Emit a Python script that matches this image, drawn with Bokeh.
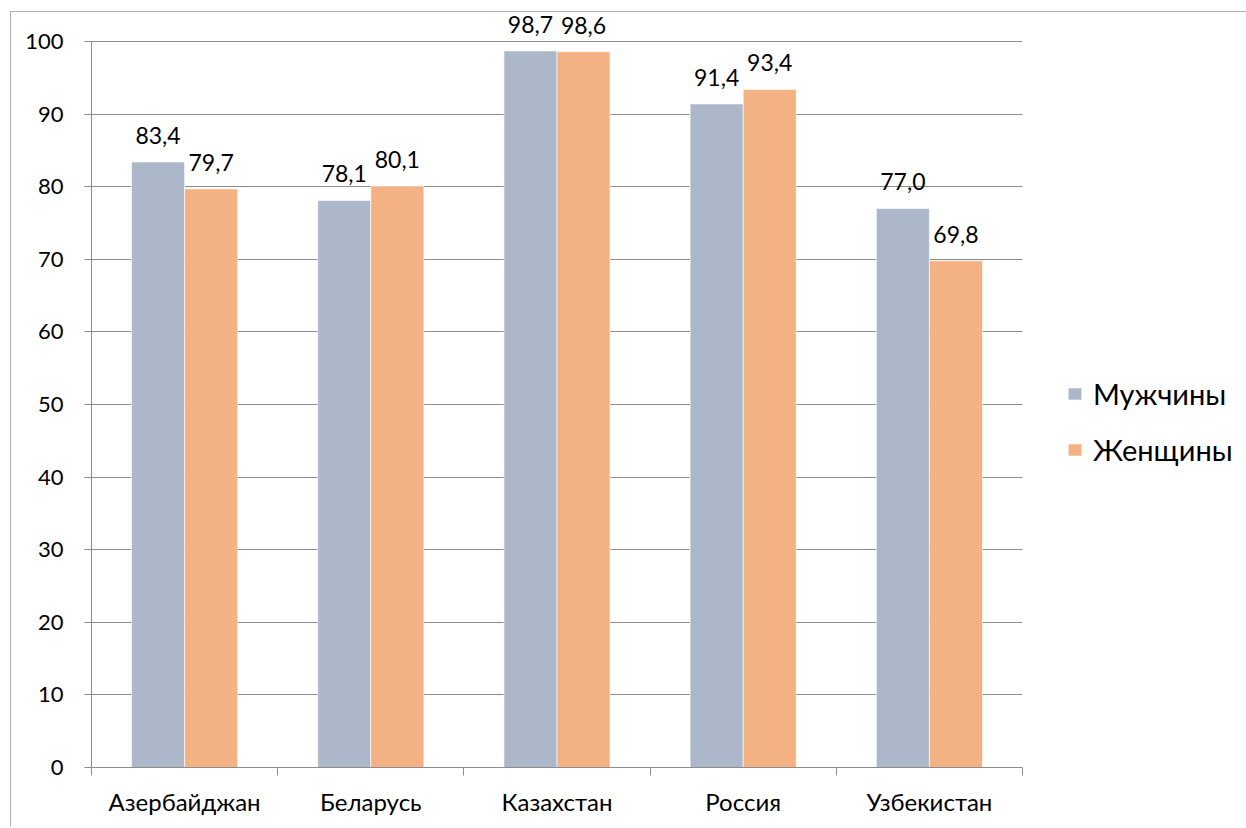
from bokeh.plotting import figure
from bokeh.models import (ColumnDataSource, FixedTicker, Range1d, Legend, LegendItem, LabelSet)
from bokeh.core.properties import value
from bokeh.embed import file_html
from bokeh.resources import INLINE

countries = ["Азербайджан", "Беларусь", "Казахстан", "Россия", "Узбекистан"]
men = [83.4, 78.1, 98.7, 91.4, 77.0]
women = [79.7, 80.1, 98.6, 93.4, 69.8]
series_names = ["Мужчины", "Женщины"]
colors = ["#ACB8CA", "#F4B183"]
y_ticks = [0, 10, 20, 30, 40, 50, 60, 70, 80, 90, 100]

FONT = "Lato"
GRID = "#8C8C8C"
BAR_W = 0.285

idx = list(range(len(countries)))
fmt = lambda v: f"{v:.1f}".replace(".", ",")

src_m = ColumnDataSource(dict(x=[i + 0.5 - BAR_W / 2 for i in idx], top=men,
                              label=[fmt(v) for v in men]))
src_w = ColumnDataSource(dict(x=[i + 0.5 + BAR_W / 2 for i in idx], top=women,
                              label=[fmt(v) for v in women]))

p = figure(frame_width=931, frame_height=760, output_backend="svg", toolbar_location=None,
           x_range=Range1d(0, len(countries)), y_range=Range1d(0, 104.683),
           min_border_left=81, min_border_top=2, min_border_right=214, min_border_bottom=59)
p.outline_line_color = None
p.border_fill_alpha = 0
p.background_fill_alpha = 0

r_m = p.vbar(x="x", top="top", width=BAR_W, source=src_m, fill_color=colors[0],
             line_color="white", line_width=1, line_alpha=0.6)
r_w = p.vbar(x="x", top="top", width=BAR_W, source=src_w, fill_color=colors[1],
             line_color="white", line_width=1, line_alpha=0.6)

for src in (src_m, src_w):
    p.add_layout(LabelSet(x="x", y="top", text="label", source=src, text_align="center",
                          text_baseline="alphabetic", y_offset=18, text_font=value(FONT),
                          text_font_size=value("23px"), text_color=value("black")))

# axes
p.xaxis.ticker = FixedTicker(ticks=[i + 0.5 for i in idx], minor_ticks=list(range(len(countries) + 1)))
p.xaxis.major_label_overrides = {i + 0.5: c for i, c in zip(idx, countries)}
p.xaxis.major_tick_line_color = None
p.xaxis.minor_tick_out = 8
p.xaxis.minor_tick_in = 0
p.xaxis.minor_tick_line_color = GRID
p.xaxis.axis_line_color = GRID
p.xaxis.major_label_standoff = 11
p.xaxis.major_label_text_font_size = "24px"
p.yaxis.ticker = FixedTicker(ticks=y_ticks)
p.yaxis.bounds = (0, 100)
p.yaxis.minor_tick_line_color = None
p.yaxis.major_tick_out = 7
p.yaxis.major_tick_in = 0
p.yaxis.major_tick_line_color = GRID
p.yaxis.axis_line_color = GRID
p.yaxis.major_label_standoff = 21
p.yaxis.major_label_text_font_size = "22px"
for ax in (p.xaxis, p.yaxis):
    ax.major_label_text_font = FONT
    ax.major_label_text_color = "black"

p.xgrid.grid_line_color = None
p.ygrid.ticker = FixedTicker(ticks=y_ticks)
p.ygrid.grid_line_color = GRID

legend = Legend(items=[LegendItem(label=series_names[0], renderers=[r_m]),
                       LegendItem(label=series_names[1], renderers=[r_w])],
                location=(44, 300), orientation="vertical")
legend.padding = 0
legend.margin = 0
legend.border_line_alpha = 0
legend.background_fill_alpha = 0
legend.glyph_width = 17
legend.glyph_height = 15
legend.label_standoff = 10
legend.label_text_font = FONT
legend.label_text_font_size = "29px"
legend.label_text_color = "black"
legend.label_height = 34
legend.spacing = 21
p.add_layout(legend, "right")

# chart-area frame (thin grey lines at the top and left, as in the reference)
p.styles = {"background": "linear-gradient(#B0B0B0, #B0B0B0) 0 6px / 100% 1px no-repeat, "
                          "linear-gradient(#B0B0B0, #B0B0B0) 0 6px / 1px 100% no-repeat"}
p.margin = (5, 0, 0, 10)

open("out.html", "w").write(file_html(p, INLINE))
